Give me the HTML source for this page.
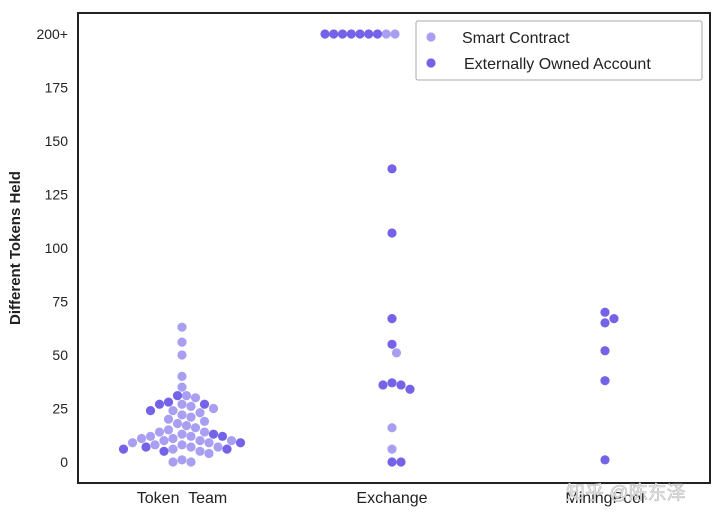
<!DOCTYPE html>
<html><head><meta charset="utf-8"><style>
html,body{margin:0;padding:0;background:#fff;}
svg{display:block;font-family:"Liberation Sans","Noto Sans CJK SC",sans-serif;}
</style></head><body>
<svg id="chart" width="720" height="521" viewBox="0 0 720 521"></svg>
<script>
const categories = ["Token  Team", "Exchange", "MiningPool"];
const yTicks = [0,25,50,75,100,125,150,175,200];
const yTickLabels = ["0","25","50","75","100","125","150","175","200+"];
const tokenSmart = [63,56,50,40,35,31,30,27,26,25,24,23,22,21,20,19,18,17,16,15,14,14,13,12,12,11,11,10,10,10,9,9,8,8,7,7,6,5,4,1,0,0];
const tokenEOA = [31,28,27,27,24,13,12,9,7,6,6,5];
const exchangeSmart = [200,200,51,16,6];
const exchangeEOA = [200,200,200,200,200,200,200,137,107,67,55,37,36,36,34,0,0];
const miningSmart = [];
const miningEOA = [70,67,65,52,38,1];
const seriesData = [
  [tokenSmart, tokenEOA],
  [exchangeSmart, exchangeEOA],
  [miningSmart, miningEOA]
];
const colors = ["#a99ff2", "#7462e8"];

const NS = "http://www.w3.org/2000/svg";
const svg = document.getElementById("chart");
const L=78,R=710,T=13,B=483;
const y0=462, y200=34;
function yScale(v){ return y0 + (y200-y0)*Math.min(v,200)/200; }
const catX = [182, 392, 605];
function xScale(i){ return catX[i]; }
function mk(tag, attrs){ const e=document.createElementNS(NS,tag); for(const k in attrs) e.setAttribute(k,attrs[k]); return e; }

const frame = mk("rect",{x:L,y:T,width:R-L,height:B-T,fill:"none",stroke:"#222","stroke-width":2});


svg.appendChild(frame);

yTicks.forEach((t,i)=>{
  const tx = mk("text",{x:68,y:yScale(t)+5,"text-anchor":"end","font-size":14,fill:"#222"});
  tx.textContent = yTickLabels[i];
  
  
  svg.appendChild(tx);
});
const yt = mk("text",{x:0,y:0,transform:"translate(20,248) rotate(-90)","text-anchor":"middle","font-size":15,"font-weight":"bold",fill:"#222"});
yt.textContent="Different Tokens Held";


svg.appendChild(yt);

categories.forEach((c,i)=>{
  const tx = mk("text",{x:xScale(i),y:503,"text-anchor":"middle","font-size":16,fill:"#222"});
  tx.setAttribute("style","white-space:pre");
  tx.textContent=c;
  
  
  svg.appendChild(tx);
});

const r=4.6, d=9.0;
seriesData.forEach((pair,ci)=>{
  const pts=[], capped=[];
  pair.forEach((vals,si)=>vals.forEach(v=>{ (v>=200?capped:pts).push({v,si}); }));
  pts.sort((a,b)=>b.v-a.v);
  const placed=[];
  capped.sort((a,b)=>a.si-b.si);
  capped.forEach((p,k)=>placed.push({x:xScale(ci)+3-k*8.75,y:yScale(p.v),si:p.si}));
  pts.forEach(p=>{
    const py=yScale(p.v);
    let px=xScale(ci);
    for(let k=0;k<80;k++){
      const off = (k===0)?0:(k%2? 1:-1)*Math.ceil(k/2)*d*0.5;
      const cx=xScale(ci)+off;
      if(placed.every(q=>Math.hypot(q.x-cx,q.y-py)>=d)){ px=cx; break; }
    }
    placed.push({x:px,y:py,si:p.si});
  });
  placed.forEach(q=>{
    const c=mk("circle",{cx:q.x,cy:q.y,r:r,fill:colors[q.si]});
    
    
    svg.appendChild(c);
  });
});

const lg = mk("rect",{x:416,y:21,width:286,height:59,fill:"#fff",stroke:"#aaa","stroke-width":1,rx:2});


svg.appendChild(lg);
["Smart Contract","Externally Owned Account"].forEach((n,i)=>{
  const yy=37+i*26;
  const c=mk("circle",{cx:431,cy:yy,r:4.6,fill:colors[i]});
  
  
  svg.appendChild(c);
  const t=mk("text",{x:i?464:462,y:yy+6,"font-size":16,fill:"#222"});
  t.textContent=n;
  
  
  svg.appendChild(t);
});

const wm=mk("text",{x:566,y:499,"font-size":19,fill:"#e6e6e6",stroke:"#bdbdbd","stroke-width":0.6});
wm.textContent="知乎 @陈东泽";


svg.appendChild(wm);
</script>
</body></html>
